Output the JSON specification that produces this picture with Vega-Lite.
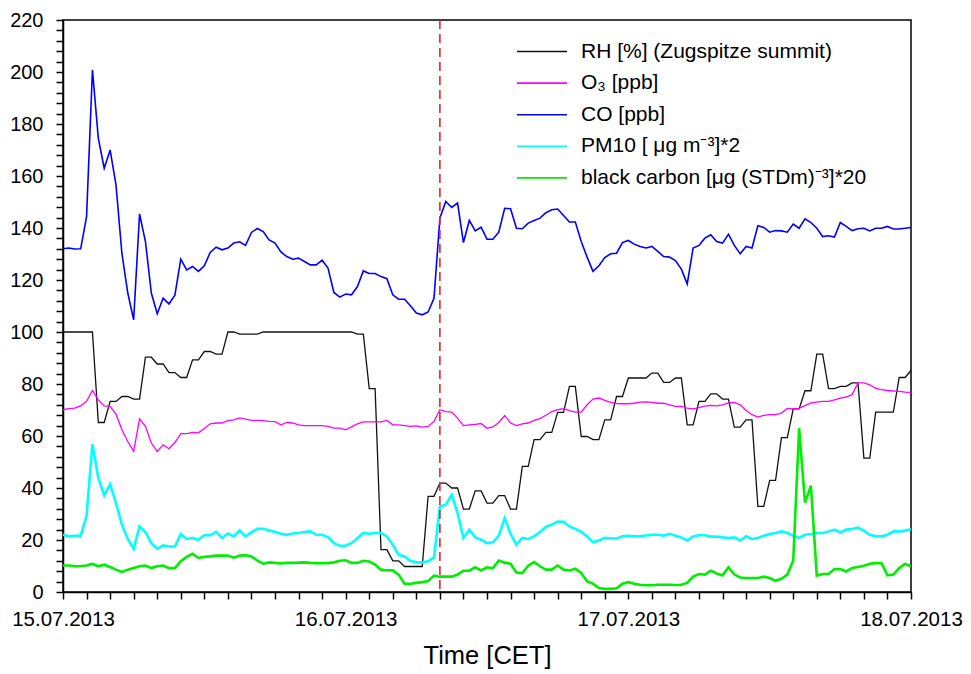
{
"$schema":"https://vega.github.io/schema/vega-lite/v6.json",
"width":848,"height":572,
"autosize":{"type":"none"},
"padding":{"left":63,"top":20,"right":59,"bottom":82},
"background":"white",
"datasets":{"series":[
{"t":"2013-07-15T00:00","s":"RH","v":100},{"t":"2013-07-15T00:30","s":"RH","v":100},{"t":"2013-07-15T01:00","s":"RH","v":100},{"t":"2013-07-15T01:30","s":"RH","v":100},{"t":"2013-07-15T02:00","s":"RH","v":100},{"t":"2013-07-15T02:30","s":"RH","v":100},{"t":"2013-07-15T03:00","s":"RH","v":65.2},{"t":"2013-07-15T03:30","s":"RH","v":65.2},{"t":"2013-07-15T04:00","s":"RH","v":73.3},{"t":"2013-07-15T04:30","s":"RH","v":73.3},{"t":"2013-07-15T05:00","s":"RH","v":75.2},{"t":"2013-07-15T05:30","s":"RH","v":75.2},{"t":"2013-07-15T06:00","s":"RH","v":74.2},{"t":"2013-07-15T06:30","s":"RH","v":74.2},{"t":"2013-07-15T07:00","s":"RH","v":90.3},{"t":"2013-07-15T07:30","s":"RH","v":90.3},{"t":"2013-07-15T08:00","s":"RH","v":87.7},{"t":"2013-07-15T08:30","s":"RH","v":87.7},{"t":"2013-07-15T09:00","s":"RH","v":84.4},{"t":"2013-07-15T09:30","s":"RH","v":84.4},{"t":"2013-07-15T10:00","s":"RH","v":82.5},{"t":"2013-07-15T10:30","s":"RH","v":82.5},{"t":"2013-07-15T11:00","s":"RH","v":89.3},{"t":"2013-07-15T11:30","s":"RH","v":89.3},{"t":"2013-07-15T12:00","s":"RH","v":92.5},{"t":"2013-07-15T12:30","s":"RH","v":92.5},{"t":"2013-07-15T13:00","s":"RH","v":91.5},{"t":"2013-07-15T13:30","s":"RH","v":91.5},{"t":"2013-07-15T14:00","s":"RH","v":100},{"t":"2013-07-15T14:30","s":"RH","v":100},{"t":"2013-07-15T15:00","s":"RH","v":99.2},{"t":"2013-07-15T15:30","s":"RH","v":99.2},{"t":"2013-07-15T16:00","s":"RH","v":99.2},{"t":"2013-07-15T16:30","s":"RH","v":99.2},{"t":"2013-07-15T17:00","s":"RH","v":100},{"t":"2013-07-15T17:30","s":"RH","v":100},{"t":"2013-07-15T18:00","s":"RH","v":100},{"t":"2013-07-15T18:30","s":"RH","v":100},{"t":"2013-07-15T19:00","s":"RH","v":100},{"t":"2013-07-15T19:30","s":"RH","v":100},{"t":"2013-07-15T20:00","s":"RH","v":100},{"t":"2013-07-15T20:30","s":"RH","v":100},{"t":"2013-07-15T21:00","s":"RH","v":100},{"t":"2013-07-15T21:30","s":"RH","v":100},{"t":"2013-07-15T22:00","s":"RH","v":100},{"t":"2013-07-15T22:30","s":"RH","v":100},{"t":"2013-07-15T23:00","s":"RH","v":100},{"t":"2013-07-15T23:30","s":"RH","v":100},
{"t":"2013-07-16T00:00","s":"RH","v":100},{"t":"2013-07-16T00:30","s":"RH","v":100},{"t":"2013-07-16T01:00","s":"RH","v":99.2},{"t":"2013-07-16T01:30","s":"RH","v":99.2},{"t":"2013-07-16T02:00","s":"RH","v":78.2},{"t":"2013-07-16T02:30","s":"RH","v":78.2},{"t":"2013-07-16T03:00","s":"RH","v":16.3},{"t":"2013-07-16T03:30","s":"RH","v":16.3},{"t":"2013-07-16T04:00","s":"RH","v":12},{"t":"2013-07-16T04:30","s":"RH","v":12},{"t":"2013-07-16T05:00","s":"RH","v":9.8},{"t":"2013-07-16T05:30","s":"RH","v":9.8},{"t":"2013-07-16T06:00","s":"RH","v":9.8},{"t":"2013-07-16T06:30","s":"RH","v":9.8},{"t":"2013-07-16T07:00","s":"RH","v":36.8},{"t":"2013-07-16T07:30","s":"RH","v":36.8},{"t":"2013-07-16T08:00","s":"RH","v":41.9},{"t":"2013-07-16T08:30","s":"RH","v":41.9},{"t":"2013-07-16T09:00","s":"RH","v":40},{"t":"2013-07-16T09:30","s":"RH","v":40},{"t":"2013-07-16T10:00","s":"RH","v":31.9},{"t":"2013-07-16T10:30","s":"RH","v":31.9},{"t":"2013-07-16T11:00","s":"RH","v":38.9},{"t":"2013-07-16T11:30","s":"RH","v":38.9},{"t":"2013-07-16T12:00","s":"RH","v":34.2},{"t":"2013-07-16T12:30","s":"RH","v":34.2},{"t":"2013-07-16T13:00","s":"RH","v":37.1},{"t":"2013-07-16T13:30","s":"RH","v":37.1},{"t":"2013-07-16T14:00","s":"RH","v":31.9},{"t":"2013-07-16T14:30","s":"RH","v":31.9},{"t":"2013-07-16T15:00","s":"RH","v":48.3},{"t":"2013-07-16T15:30","s":"RH","v":48.3},{"t":"2013-07-16T16:00","s":"RH","v":58.6},{"t":"2013-07-16T16:30","s":"RH","v":58.6},{"t":"2013-07-16T17:00","s":"RH","v":61.4},{"t":"2013-07-16T17:30","s":"RH","v":61.4},{"t":"2013-07-16T18:00","s":"RH","v":69.1},{"t":"2013-07-16T18:30","s":"RH","v":69.1},{"t":"2013-07-16T19:00","s":"RH","v":79.1},{"t":"2013-07-16T19:30","s":"RH","v":79.1},{"t":"2013-07-16T20:00","s":"RH","v":59.8},{"t":"2013-07-16T20:30","s":"RH","v":59.8},{"t":"2013-07-16T21:00","s":"RH","v":58.6},{"t":"2013-07-16T21:30","s":"RH","v":58.6},{"t":"2013-07-16T22:00","s":"RH","v":66.2},{"t":"2013-07-16T22:30","s":"RH","v":66.2},{"t":"2013-07-16T23:00","s":"RH","v":75.2},{"t":"2013-07-16T23:30","s":"RH","v":75.2},
{"t":"2013-07-17T00:00","s":"RH","v":82.3},{"t":"2013-07-17T00:30","s":"RH","v":82.3},{"t":"2013-07-17T01:00","s":"RH","v":82.3},{"t":"2013-07-17T01:30","s":"RH","v":82.3},{"t":"2013-07-17T02:00","s":"RH","v":84.2},{"t":"2013-07-17T02:30","s":"RH","v":84.2},{"t":"2013-07-17T03:00","s":"RH","v":80.6},{"t":"2013-07-17T03:30","s":"RH","v":80.6},{"t":"2013-07-17T04:00","s":"RH","v":82.3},{"t":"2013-07-17T04:30","s":"RH","v":82.3},{"t":"2013-07-17T05:00","s":"RH","v":64.3},{"t":"2013-07-17T05:30","s":"RH","v":64.3},{"t":"2013-07-17T06:00","s":"RH","v":73.3},{"t":"2013-07-17T06:30","s":"RH","v":73.3},{"t":"2013-07-17T07:00","s":"RH","v":76.2},{"t":"2013-07-17T07:30","s":"RH","v":76.2},{"t":"2013-07-17T08:00","s":"RH","v":74.2},{"t":"2013-07-17T08:30","s":"RH","v":74.2},{"t":"2013-07-17T09:00","s":"RH","v":63.4},{"t":"2013-07-17T09:30","s":"RH","v":63.4},{"t":"2013-07-17T10:00","s":"RH","v":66.2},{"t":"2013-07-17T10:30","s":"RH","v":66.2},{"t":"2013-07-17T11:00","s":"RH","v":32.9},{"t":"2013-07-17T11:30","s":"RH","v":32.9},{"t":"2013-07-17T12:00","s":"RH","v":42.9},{"t":"2013-07-17T12:30","s":"RH","v":42.9},{"t":"2013-07-17T13:00","s":"RH","v":59.4},{"t":"2013-07-17T13:30","s":"RH","v":59.4},{"t":"2013-07-17T14:00","s":"RH","v":70.4},{"t":"2013-07-17T14:30","s":"RH","v":70.4},{"t":"2013-07-17T15:00","s":"RH","v":77.4},{"t":"2013-07-17T15:30","s":"RH","v":77.4},{"t":"2013-07-17T16:00","s":"RH","v":91.5},{"t":"2013-07-17T16:30","s":"RH","v":91.5},{"t":"2013-07-17T17:00","s":"RH","v":78.2},{"t":"2013-07-17T17:30","s":"RH","v":78.2},{"t":"2013-07-17T18:00","s":"RH","v":79.1},{"t":"2013-07-17T18:30","s":"RH","v":79.1},{"t":"2013-07-17T19:00","s":"RH","v":80.4},{"t":"2013-07-17T19:30","s":"RH","v":80.4},{"t":"2013-07-17T20:00","s":"RH","v":51.5},{"t":"2013-07-17T20:30","s":"RH","v":51.5},{"t":"2013-07-17T21:00","s":"RH","v":69.2},{"t":"2013-07-17T21:30","s":"RH","v":69.2},{"t":"2013-07-17T22:00","s":"RH","v":69.2},{"t":"2013-07-17T22:30","s":"RH","v":69.2},{"t":"2013-07-17T23:00","s":"RH","v":82.5},{"t":"2013-07-17T23:30","s":"RH","v":82.5},{"t":"2013-07-18T00:00","s":"RH","v":85.2},

{"t":"2013-07-15T00:00","s":"O3","v":70.1},{"t":"2013-07-15T00:30","s":"O3","v":70.5},{"t":"2013-07-15T01:00","s":"O3","v":70.7},{"t":"2013-07-15T01:30","s":"O3","v":71.6},{"t":"2013-07-15T02:00","s":"O3","v":73.3},{"t":"2013-07-15T02:30","s":"O3","v":77.5},{"t":"2013-07-15T03:00","s":"O3","v":73.9},{"t":"2013-07-15T03:30","s":"O3","v":71.6},{"t":"2013-07-15T04:00","s":"O3","v":71.4},{"t":"2013-07-15T04:30","s":"O3","v":68.4},{"t":"2013-07-15T05:00","s":"O3","v":62.4},{"t":"2013-07-15T05:30","s":"O3","v":57.9},{"t":"2013-07-15T06:00","s":"O3","v":54.1},{"t":"2013-07-15T06:30","s":"O3","v":66.6},{"t":"2013-07-15T07:00","s":"O3","v":63.7},{"t":"2013-07-15T07:30","s":"O3","v":57.3},{"t":"2013-07-15T08:00","s":"O3","v":54.1},{"t":"2013-07-15T08:30","s":"O3","v":56.6},{"t":"2013-07-15T09:00","s":"O3","v":55.1},{"t":"2013-07-15T09:30","s":"O3","v":57.5},{"t":"2013-07-15T10:00","s":"O3","v":60.9},{"t":"2013-07-15T10:30","s":"O3","v":60.9},{"t":"2013-07-15T11:00","s":"O3","v":61.4},{"t":"2013-07-15T11:30","s":"O3","v":61.2},{"t":"2013-07-15T12:00","s":"O3","v":62.9},{"t":"2013-07-15T12:30","s":"O3","v":64.7},{"t":"2013-07-15T13:00","s":"O3","v":65},{"t":"2013-07-15T13:30","s":"O3","v":65},{"t":"2013-07-15T14:00","s":"O3","v":65.9},{"t":"2013-07-15T14:30","s":"O3","v":66.2},{"t":"2013-07-15T15:00","s":"O3","v":67},{"t":"2013-07-15T15:30","s":"O3","v":66.5},{"t":"2013-07-15T16:00","s":"O3","v":66},{"t":"2013-07-15T16:30","s":"O3","v":66},{"t":"2013-07-15T17:00","s":"O3","v":65.9},{"t":"2013-07-15T17:30","s":"O3","v":65.6},{"t":"2013-07-15T18:00","s":"O3","v":65.5},{"t":"2013-07-15T18:30","s":"O3","v":64.3},{"t":"2013-07-15T19:00","s":"O3","v":65.2},{"t":"2013-07-15T19:30","s":"O3","v":65},{"t":"2013-07-15T20:00","s":"O3","v":64.3},{"t":"2013-07-15T20:30","s":"O3","v":64},{"t":"2013-07-15T21:00","s":"O3","v":64},{"t":"2013-07-15T21:30","s":"O3","v":64},{"t":"2013-07-15T22:00","s":"O3","v":64},{"t":"2013-07-15T22:30","s":"O3","v":63.7},{"t":"2013-07-15T23:00","s":"O3","v":63},{"t":"2013-07-15T23:30","s":"O3","v":63},
{"t":"2013-07-16T00:00","s":"O3","v":62.4},{"t":"2013-07-16T00:30","s":"O3","v":63.5},{"t":"2013-07-16T01:00","s":"O3","v":64.7},{"t":"2013-07-16T01:30","s":"O3","v":65.4},{"t":"2013-07-16T02:00","s":"O3","v":65.4},{"t":"2013-07-16T02:30","s":"O3","v":65.4},{"t":"2013-07-16T03:00","s":"O3","v":65.4},{"t":"2013-07-16T03:30","s":"O3","v":66},{"t":"2013-07-16T04:00","s":"O3","v":64.3},{"t":"2013-07-16T04:30","s":"O3","v":64.3},{"t":"2013-07-16T05:00","s":"O3","v":64},{"t":"2013-07-16T05:30","s":"O3","v":63.7},{"t":"2013-07-16T06:00","s":"O3","v":63.9},{"t":"2013-07-16T06:30","s":"O3","v":63.4},{"t":"2013-07-16T07:00","s":"O3","v":63.7},{"t":"2013-07-16T07:30","s":"O3","v":65.6},{"t":"2013-07-16T08:00","s":"O3","v":70.1},{"t":"2013-07-16T08:30","s":"O3","v":69.4},{"t":"2013-07-16T09:00","s":"O3","v":69.2},{"t":"2013-07-16T09:30","s":"O3","v":66.9},{"t":"2013-07-16T10:00","s":"O3","v":64},{"t":"2013-07-16T10:30","s":"O3","v":64.3},{"t":"2013-07-16T11:00","s":"O3","v":64.5},{"t":"2013-07-16T11:30","s":"O3","v":64.8},{"t":"2013-07-16T12:00","s":"O3","v":63},{"t":"2013-07-16T12:30","s":"O3","v":63.5},{"t":"2013-07-16T13:00","s":"O3","v":65.2},{"t":"2013-07-16T13:30","s":"O3","v":67.9},{"t":"2013-07-16T14:00","s":"O3","v":65},{"t":"2013-07-16T14:30","s":"O3","v":64},{"t":"2013-07-16T15:00","s":"O3","v":64.7},{"t":"2013-07-16T15:30","s":"O3","v":65},{"t":"2013-07-16T16:00","s":"O3","v":66},{"t":"2013-07-16T16:30","s":"O3","v":66.7},{"t":"2013-07-16T17:00","s":"O3","v":68},{"t":"2013-07-16T17:30","s":"O3","v":69.4},{"t":"2013-07-16T18:00","s":"O3","v":70.1},{"t":"2013-07-16T18:30","s":"O3","v":70.5},{"t":"2013-07-16T19:00","s":"O3","v":69.8},{"t":"2013-07-16T19:30","s":"O3","v":69.2},{"t":"2013-07-16T20:00","s":"O3","v":69.2},{"t":"2013-07-16T20:30","s":"O3","v":72},{"t":"2013-07-16T21:00","s":"O3","v":74.2},{"t":"2013-07-16T21:30","s":"O3","v":74.6},{"t":"2013-07-16T22:00","s":"O3","v":73.7},{"t":"2013-07-16T22:30","s":"O3","v":72.9},{"t":"2013-07-16T23:00","s":"O3","v":72.5},{"t":"2013-07-16T23:30","s":"O3","v":72.4},
{"t":"2013-07-17T00:00","s":"O3","v":72.4},{"t":"2013-07-17T00:30","s":"O3","v":72.6},{"t":"2013-07-17T01:00","s":"O3","v":73},{"t":"2013-07-17T01:30","s":"O3","v":73.1},{"t":"2013-07-17T02:00","s":"O3","v":72.9},{"t":"2013-07-17T02:30","s":"O3","v":72.6},{"t":"2013-07-17T03:00","s":"O3","v":72.6},{"t":"2013-07-17T03:30","s":"O3","v":72},{"t":"2013-07-17T04:00","s":"O3","v":71.4},{"t":"2013-07-17T04:30","s":"O3","v":71.4},{"t":"2013-07-17T05:00","s":"O3","v":70.7},{"t":"2013-07-17T05:30","s":"O3","v":70.4},{"t":"2013-07-17T06:00","s":"O3","v":70.9},{"t":"2013-07-17T06:30","s":"O3","v":71.5},{"t":"2013-07-17T07:00","s":"O3","v":71.8},{"t":"2013-07-17T07:30","s":"O3","v":71.6},{"t":"2013-07-17T08:00","s":"O3","v":72},{"t":"2013-07-17T08:30","s":"O3","v":72.7},{"t":"2013-07-17T09:00","s":"O3","v":72.9},{"t":"2013-07-17T09:30","s":"O3","v":72},{"t":"2013-07-17T10:00","s":"O3","v":69.8},{"t":"2013-07-17T10:30","s":"O3","v":68.2},{"t":"2013-07-17T11:00","s":"O3","v":67.3},{"t":"2013-07-17T11:30","s":"O3","v":67.9},{"t":"2013-07-17T12:00","s":"O3","v":68.2},{"t":"2013-07-17T12:30","s":"O3","v":68.2},{"t":"2013-07-17T13:00","s":"O3","v":68.8},{"t":"2013-07-17T13:30","s":"O3","v":70.6},{"t":"2013-07-17T14:00","s":"O3","v":70.4},{"t":"2013-07-17T14:30","s":"O3","v":70.6},{"t":"2013-07-17T15:00","s":"O3","v":71.7},{"t":"2013-07-17T15:30","s":"O3","v":72.7},{"t":"2013-07-17T16:00","s":"O3","v":73},{"t":"2013-07-17T16:30","s":"O3","v":73.3},{"t":"2013-07-17T17:00","s":"O3","v":73.3},{"t":"2013-07-17T17:30","s":"O3","v":73.9},{"t":"2013-07-17T18:00","s":"O3","v":74.6},{"t":"2013-07-17T18:30","s":"O3","v":75},{"t":"2013-07-17T19:00","s":"O3","v":75.9},{"t":"2013-07-17T19:30","s":"O3","v":80.4},{"t":"2013-07-17T20:00","s":"O3","v":80.4},{"t":"2013-07-17T20:30","s":"O3","v":79.7},{"t":"2013-07-17T21:00","s":"O3","v":78.3},{"t":"2013-07-17T21:30","s":"O3","v":77.8},{"t":"2013-07-17T22:00","s":"O3","v":77.5},{"t":"2013-07-17T22:30","s":"O3","v":77.3},{"t":"2013-07-17T23:00","s":"O3","v":77.2},{"t":"2013-07-17T23:30","s":"O3","v":76.9},{"t":"2013-07-18T00:00","s":"O3","v":76.8},

{"t":"2013-07-15T00:00","s":"CO","v":132},{"t":"2013-07-15T00:30","s":"CO","v":132.3},{"t":"2013-07-15T01:00","s":"CO","v":131.9},{"t":"2013-07-15T01:30","s":"CO","v":132},{"t":"2013-07-15T02:00","s":"CO","v":144.4},{"t":"2013-07-15T02:30","s":"CO","v":200.8},{"t":"2013-07-15T03:00","s":"CO","v":174.5},{"t":"2013-07-15T03:30","s":"CO","v":163},{"t":"2013-07-15T04:00","s":"CO","v":170},{"t":"2013-07-15T04:30","s":"CO","v":156.6},{"t":"2013-07-15T05:00","s":"CO","v":130.3},{"t":"2013-07-15T05:30","s":"CO","v":115},{"t":"2013-07-15T06:00","s":"CO","v":104.7},{"t":"2013-07-15T06:30","s":"CO","v":145.4},{"t":"2013-07-15T07:00","s":"CO","v":134.8},{"t":"2013-07-15T07:30","s":"CO","v":115},{"t":"2013-07-15T08:00","s":"CO","v":107},{"t":"2013-07-15T08:30","s":"CO","v":113},{"t":"2013-07-15T09:00","s":"CO","v":110.8},{"t":"2013-07-15T09:30","s":"CO","v":114.2},{"t":"2013-07-15T10:00","s":"CO","v":128},{"t":"2013-07-15T10:30","s":"CO","v":123.9},{"t":"2013-07-15T11:00","s":"CO","v":125.2},{"t":"2013-07-15T11:30","s":"CO","v":123.3},{"t":"2013-07-15T12:00","s":"CO","v":125.5},{"t":"2013-07-15T12:30","s":"CO","v":130.6},{"t":"2013-07-15T13:00","s":"CO","v":132.6},{"t":"2013-07-15T13:30","s":"CO","v":131.6},{"t":"2013-07-15T14:00","s":"CO","v":132.3},{"t":"2013-07-15T14:30","s":"CO","v":134.2},{"t":"2013-07-15T15:00","s":"CO","v":134.7},{"t":"2013-07-15T15:30","s":"CO","v":133.3},{"t":"2013-07-15T16:00","s":"CO","v":138.3},{"t":"2013-07-15T16:30","s":"CO","v":139.8},{"t":"2013-07-15T17:00","s":"CO","v":138.6},{"t":"2013-07-15T17:30","s":"CO","v":135.4},{"t":"2013-07-15T18:00","s":"CO","v":134.2},{"t":"2013-07-15T18:30","s":"CO","v":130.8},{"t":"2013-07-15T19:00","s":"CO","v":129},{"t":"2013-07-15T19:30","s":"CO","v":128},{"t":"2013-07-15T20:00","s":"CO","v":128.4},{"t":"2013-07-15T20:30","s":"CO","v":127.1},{"t":"2013-07-15T21:00","s":"CO","v":125.8},{"t":"2013-07-15T21:30","s":"CO","v":125.8},{"t":"2013-07-15T22:00","s":"CO","v":127.6},{"t":"2013-07-15T22:30","s":"CO","v":124.6},{"t":"2013-07-15T23:00","s":"CO","v":115.2},{"t":"2013-07-15T23:30","s":"CO","v":113.4},
{"t":"2013-07-16T00:00","s":"CO","v":114.6},{"t":"2013-07-16T00:30","s":"CO","v":114.3},{"t":"2013-07-16T01:00","s":"CO","v":117.5},{"t":"2013-07-16T01:30","s":"CO","v":123.5},{"t":"2013-07-16T02:00","s":"CO","v":122.5},{"t":"2013-07-16T02:30","s":"CO","v":122.5},{"t":"2013-07-16T03:00","s":"CO","v":121.3},{"t":"2013-07-16T03:30","s":"CO","v":120.5},{"t":"2013-07-16T04:00","s":"CO","v":114.3},{"t":"2013-07-16T04:30","s":"CO","v":112.6},{"t":"2013-07-16T05:00","s":"CO","v":112.6},{"t":"2013-07-16T05:30","s":"CO","v":110.1},{"t":"2013-07-16T06:00","s":"CO","v":107.3},{"t":"2013-07-16T06:30","s":"CO","v":106.6},{"t":"2013-07-16T07:00","s":"CO","v":107.7},{"t":"2013-07-16T07:30","s":"CO","v":113},{"t":"2013-07-16T08:00","s":"CO","v":143.8},{"t":"2013-07-16T08:30","s":"CO","v":150.2},{"t":"2013-07-16T09:00","s":"CO","v":147.9},{"t":"2013-07-16T09:30","s":"CO","v":149.6},{"t":"2013-07-16T10:00","s":"CO","v":134.4},{"t":"2013-07-16T10:30","s":"CO","v":142.9},{"t":"2013-07-16T11:00","s":"CO","v":138.9},{"t":"2013-07-16T11:30","s":"CO","v":140.3},{"t":"2013-07-16T12:00","s":"CO","v":135.7},{"t":"2013-07-16T12:30","s":"CO","v":135.7},{"t":"2013-07-16T13:00","s":"CO","v":138.4},{"t":"2013-07-16T13:30","s":"CO","v":147.6},{"t":"2013-07-16T14:00","s":"CO","v":147.4},{"t":"2013-07-16T14:30","s":"CO","v":139.9},{"t":"2013-07-16T15:00","s":"CO","v":139.7},{"t":"2013-07-16T15:30","s":"CO","v":141.9},{"t":"2013-07-16T16:00","s":"CO","v":142.9},{"t":"2013-07-16T16:30","s":"CO","v":143.8},{"t":"2013-07-16T17:00","s":"CO","v":145.9},{"t":"2013-07-16T17:30","s":"CO","v":147},{"t":"2013-07-16T18:00","s":"CO","v":147.3},{"t":"2013-07-16T18:30","s":"CO","v":144.8},{"t":"2013-07-16T19:00","s":"CO","v":142.3},{"t":"2013-07-16T19:30","s":"CO","v":142.3},{"t":"2013-07-16T20:00","s":"CO","v":134.8},{"t":"2013-07-16T20:30","s":"CO","v":128.8},{"t":"2013-07-16T21:00","s":"CO","v":123.3},{"t":"2013-07-16T21:30","s":"CO","v":125.5},{"t":"2013-07-16T22:00","s":"CO","v":128.6},{"t":"2013-07-16T22:30","s":"CO","v":130.1},{"t":"2013-07-16T23:00","s":"CO","v":130.3},{"t":"2013-07-16T23:30","s":"CO","v":134.4},
{"t":"2013-07-17T00:00","s":"CO","v":135.2},{"t":"2013-07-17T00:30","s":"CO","v":133.8},{"t":"2013-07-17T01:00","s":"CO","v":132.9},{"t":"2013-07-17T01:30","s":"CO","v":132.3},{"t":"2013-07-17T02:00","s":"CO","v":132.9},{"t":"2013-07-17T02:30","s":"CO","v":131},{"t":"2013-07-17T03:00","s":"CO","v":129},{"t":"2013-07-17T03:30","s":"CO","v":128.8},{"t":"2013-07-17T04:00","s":"CO","v":127.5},{"t":"2013-07-17T04:30","s":"CO","v":124.2},{"t":"2013-07-17T05:00","s":"CO","v":118.5},{"t":"2013-07-17T05:30","s":"CO","v":132.3},{"t":"2013-07-17T06:00","s":"CO","v":133.3},{"t":"2013-07-17T06:30","s":"CO","v":136.1},{"t":"2013-07-17T07:00","s":"CO","v":137.4},{"t":"2013-07-17T07:30","s":"CO","v":134.8},{"t":"2013-07-17T08:00","s":"CO","v":134.2},{"t":"2013-07-17T08:30","s":"CO","v":137.6},{"t":"2013-07-17T09:00","s":"CO","v":133.3},{"t":"2013-07-17T09:30","s":"CO","v":130.1},{"t":"2013-07-17T10:00","s":"CO","v":132.9},{"t":"2013-07-17T10:30","s":"CO","v":132.3},{"t":"2013-07-17T11:00","s":"CO","v":140.9},{"t":"2013-07-17T11:30","s":"CO","v":140.2},{"t":"2013-07-17T12:00","s":"CO","v":138.4},{"t":"2013-07-17T12:30","s":"CO","v":139},{"t":"2013-07-17T13:00","s":"CO","v":138.9},{"t":"2013-07-17T13:30","s":"CO","v":138.4},{"t":"2013-07-17T14:00","s":"CO","v":141.5},{"t":"2013-07-17T14:30","s":"CO","v":139.9},{"t":"2013-07-17T15:00","s":"CO","v":143.5},{"t":"2013-07-17T15:30","s":"CO","v":142.1},{"t":"2013-07-17T16:00","s":"CO","v":139.9},{"t":"2013-07-17T16:30","s":"CO","v":136.7},{"t":"2013-07-17T17:00","s":"CO","v":137},{"t":"2013-07-17T17:30","s":"CO","v":136.5},{"t":"2013-07-17T18:00","s":"CO","v":142.1},{"t":"2013-07-17T18:30","s":"CO","v":140.6},{"t":"2013-07-17T19:00","s":"CO","v":139},{"t":"2013-07-17T19:30","s":"CO","v":139.7},{"t":"2013-07-17T20:00","s":"CO","v":139.9},{"t":"2013-07-17T20:30","s":"CO","v":138.9},{"t":"2013-07-17T21:00","s":"CO","v":139.9},{"t":"2013-07-17T21:30","s":"CO","v":139.9},{"t":"2013-07-17T22:00","s":"CO","v":140.6},{"t":"2013-07-17T22:30","s":"CO","v":139.6},{"t":"2013-07-17T23:00","s":"CO","v":139.6},{"t":"2013-07-17T23:30","s":"CO","v":139.9},{"t":"2013-07-18T00:00","s":"CO","v":140.2},

{"t":"2013-07-15T00:00","s":"PM10","v":22},{"t":"2013-07-15T00:30","s":"PM10","v":21.4},{"t":"2013-07-15T01:00","s":"PM10","v":21.6},{"t":"2013-07-15T01:30","s":"PM10","v":21.6},{"t":"2013-07-15T02:00","s":"PM10","v":29.3},{"t":"2013-07-15T02:30","s":"PM10","v":56.9},{"t":"2013-07-15T03:00","s":"PM10","v":43.8},{"t":"2013-07-15T03:30","s":"PM10","v":37.1},{"t":"2013-07-15T04:00","s":"PM10","v":41.5},{"t":"2013-07-15T04:30","s":"PM10","v":34.2},{"t":"2013-07-15T05:00","s":"PM10","v":25.9},{"t":"2013-07-15T05:30","s":"PM10","v":20.4},{"t":"2013-07-15T06:00","s":"PM10","v":16.6},{"t":"2013-07-15T06:30","s":"PM10","v":25.2},{"t":"2013-07-15T07:00","s":"PM10","v":23.1},{"t":"2013-07-15T07:30","s":"PM10","v":18.8},{"t":"2013-07-15T08:00","s":"PM10","v":16.6},{"t":"2013-07-15T08:30","s":"PM10","v":17.9},{"t":"2013-07-15T09:00","s":"PM10","v":17.5},{"t":"2013-07-15T09:30","s":"PM10","v":17.5},{"t":"2013-07-15T10:00","s":"PM10","v":22.3},{"t":"2013-07-15T10:30","s":"PM10","v":20.4},{"t":"2013-07-15T11:00","s":"PM10","v":20.8},{"t":"2013-07-15T11:30","s":"PM10","v":20.1},{"t":"2013-07-15T12:00","s":"PM10","v":21.8},{"t":"2013-07-15T12:30","s":"PM10","v":21.8},{"t":"2013-07-15T13:00","s":"PM10","v":23.1},{"t":"2013-07-15T13:30","s":"PM10","v":20.8},{"t":"2013-07-15T14:00","s":"PM10","v":22.5},{"t":"2013-07-15T14:30","s":"PM10","v":21.4},{"t":"2013-07-15T15:00","s":"PM10","v":23.7},{"t":"2013-07-15T15:30","s":"PM10","v":21.4},{"t":"2013-07-15T16:00","s":"PM10","v":22.9},{"t":"2013-07-15T16:30","s":"PM10","v":24.3},{"t":"2013-07-15T17:00","s":"PM10","v":24.3},{"t":"2013-07-15T17:30","s":"PM10","v":23.7},{"t":"2013-07-15T18:00","s":"PM10","v":23.1},{"t":"2013-07-15T18:30","s":"PM10","v":22.4},{"t":"2013-07-15T19:00","s":"PM10","v":22},{"t":"2013-07-15T19:30","s":"PM10","v":22.5},{"t":"2013-07-15T20:00","s":"PM10","v":22.7},{"t":"2013-07-15T20:30","s":"PM10","v":23.1},{"t":"2013-07-15T21:00","s":"PM10","v":23.3},{"t":"2013-07-15T21:30","s":"PM10","v":22},{"t":"2013-07-15T22:00","s":"PM10","v":22},{"t":"2013-07-15T22:30","s":"PM10","v":21},{"t":"2013-07-15T23:00","s":"PM10","v":18.8},{"t":"2013-07-15T23:30","s":"PM10","v":17.8},
{"t":"2013-07-16T00:00","s":"PM10","v":17.8},{"t":"2013-07-16T00:30","s":"PM10","v":18.8},{"t":"2013-07-16T01:00","s":"PM10","v":20.8},{"t":"2013-07-16T01:30","s":"PM10","v":22.7},{"t":"2013-07-16T02:00","s":"PM10","v":22.4},{"t":"2013-07-16T02:30","s":"PM10","v":22.7},{"t":"2013-07-16T03:00","s":"PM10","v":22.7},{"t":"2013-07-16T03:30","s":"PM10","v":21.4},{"t":"2013-07-16T04:00","s":"PM10","v":18.2},{"t":"2013-07-16T04:30","s":"PM10","v":14.3},{"t":"2013-07-16T05:00","s":"PM10","v":13.7},{"t":"2013-07-16T05:30","s":"PM10","v":12},{"t":"2013-07-16T06:00","s":"PM10","v":11.4},{"t":"2013-07-16T06:30","s":"PM10","v":11.4},{"t":"2013-07-16T07:00","s":"PM10","v":11.8},{"t":"2013-07-16T07:30","s":"PM10","v":13.3},{"t":"2013-07-16T08:00","s":"PM10","v":32.9},{"t":"2013-07-16T08:30","s":"PM10","v":33.6},{"t":"2013-07-16T09:00","s":"PM10","v":37.4},{"t":"2013-07-16T09:30","s":"PM10","v":30.4},{"t":"2013-07-16T10:00","s":"PM10","v":20.8},{"t":"2013-07-16T10:30","s":"PM10","v":24},{"t":"2013-07-16T11:00","s":"PM10","v":21},{"t":"2013-07-16T11:30","s":"PM10","v":20.1},{"t":"2013-07-16T12:00","s":"PM10","v":18.8},{"t":"2013-07-16T12:30","s":"PM10","v":19.1},{"t":"2013-07-16T13:00","s":"PM10","v":21.6},{"t":"2013-07-16T13:30","s":"PM10","v":28.4},{"t":"2013-07-16T14:00","s":"PM10","v":22.4},{"t":"2013-07-16T14:30","s":"PM10","v":18.2},{"t":"2013-07-16T15:00","s":"PM10","v":20.8},{"t":"2013-07-16T15:30","s":"PM10","v":20.4},{"t":"2013-07-16T16:00","s":"PM10","v":21.4},{"t":"2013-07-16T16:30","s":"PM10","v":23.1},{"t":"2013-07-16T17:00","s":"PM10","v":25},{"t":"2013-07-16T17:30","s":"PM10","v":25.9},{"t":"2013-07-16T18:00","s":"PM10","v":27.1},{"t":"2013-07-16T18:30","s":"PM10","v":27},{"t":"2013-07-16T19:00","s":"PM10","v":25.2},{"t":"2013-07-16T19:30","s":"PM10","v":24.3},{"t":"2013-07-16T20:00","s":"PM10","v":23.1},{"t":"2013-07-16T20:30","s":"PM10","v":21.4},{"t":"2013-07-16T21:00","s":"PM10","v":19.1},{"t":"2013-07-16T21:30","s":"PM10","v":19.8},{"t":"2013-07-16T22:00","s":"PM10","v":20.8},{"t":"2013-07-16T22:30","s":"PM10","v":20.6},{"t":"2013-07-16T23:00","s":"PM10","v":20.6},{"t":"2013-07-16T23:30","s":"PM10","v":21.4},
{"t":"2013-07-17T00:00","s":"PM10","v":21.6},{"t":"2013-07-17T00:30","s":"PM10","v":21.4},{"t":"2013-07-17T01:00","s":"PM10","v":21.4},{"t":"2013-07-17T01:30","s":"PM10","v":21.7},{"t":"2013-07-17T02:00","s":"PM10","v":22},{"t":"2013-07-17T02:30","s":"PM10","v":22},{"t":"2013-07-17T03:00","s":"PM10","v":21.7},{"t":"2013-07-17T03:30","s":"PM10","v":22.4},{"t":"2013-07-17T04:00","s":"PM10","v":21.6},{"t":"2013-07-17T04:30","s":"PM10","v":21},{"t":"2013-07-17T05:00","s":"PM10","v":19.8},{"t":"2013-07-17T05:30","s":"PM10","v":21.4},{"t":"2013-07-17T06:00","s":"PM10","v":21.8},{"t":"2013-07-17T06:30","s":"PM10","v":21.8},{"t":"2013-07-17T07:00","s":"PM10","v":21.3},{"t":"2013-07-17T07:30","s":"PM10","v":21.3},{"t":"2013-07-17T08:00","s":"PM10","v":21},{"t":"2013-07-17T08:30","s":"PM10","v":20.8},{"t":"2013-07-17T09:00","s":"PM10","v":21},{"t":"2013-07-17T09:30","s":"PM10","v":19.8},{"t":"2013-07-17T10:00","s":"PM10","v":21.4},{"t":"2013-07-17T10:30","s":"PM10","v":20.4},{"t":"2013-07-17T11:00","s":"PM10","v":20.8},{"t":"2013-07-17T11:30","s":"PM10","v":21.6},{"t":"2013-07-17T12:00","s":"PM10","v":22.3},{"t":"2013-07-17T12:30","s":"PM10","v":22.7},{"t":"2013-07-17T13:00","s":"PM10","v":23.3},{"t":"2013-07-17T13:30","s":"PM10","v":22.7},{"t":"2013-07-17T14:00","s":"PM10","v":21.6},{"t":"2013-07-17T14:30","s":"PM10","v":20.8},{"t":"2013-07-17T15:00","s":"PM10","v":22},{"t":"2013-07-17T15:30","s":"PM10","v":22.3},{"t":"2013-07-17T16:00","s":"PM10","v":22.7},{"t":"2013-07-17T16:30","s":"PM10","v":22.7},{"t":"2013-07-17T17:00","s":"PM10","v":23.3},{"t":"2013-07-17T17:30","s":"PM10","v":24},{"t":"2013-07-17T18:00","s":"PM10","v":22.9},{"t":"2013-07-17T18:30","s":"PM10","v":24},{"t":"2013-07-17T19:00","s":"PM10","v":24.2},{"t":"2013-07-17T19:30","s":"PM10","v":24.8},{"t":"2013-07-17T20:00","s":"PM10","v":23.6},{"t":"2013-07-17T20:30","s":"PM10","v":22},{"t":"2013-07-17T21:00","s":"PM10","v":21.4},{"t":"2013-07-17T21:30","s":"PM10","v":21.4},{"t":"2013-07-17T22:00","s":"PM10","v":22},{"t":"2013-07-17T22:30","s":"PM10","v":23.3},{"t":"2013-07-17T23:00","s":"PM10","v":23.3},{"t":"2013-07-17T23:30","s":"PM10","v":23.6},{"t":"2013-07-18T00:00","s":"PM10","v":24.2},

{"t":"2013-07-15T00:00","s":"BC","v":10.2},{"t":"2013-07-15T00:30","s":"BC","v":10.2},{"t":"2013-07-15T01:00","s":"BC","v":9.9},{"t":"2013-07-15T01:30","s":"BC","v":10},{"t":"2013-07-15T02:00","s":"BC","v":10.2},{"t":"2013-07-15T02:30","s":"BC","v":10.8},{"t":"2013-07-15T03:00","s":"BC","v":9.9},{"t":"2013-07-15T03:30","s":"BC","v":10.5},{"t":"2013-07-15T04:00","s":"BC","v":9.6},{"t":"2013-07-15T04:30","s":"BC","v":8.6},{"t":"2013-07-15T05:00","s":"BC","v":7.7},{"t":"2013-07-15T05:30","s":"BC","v":8.6},{"t":"2013-07-15T06:00","s":"BC","v":9.2},{"t":"2013-07-15T06:30","s":"BC","v":9.9},{"t":"2013-07-15T07:00","s":"BC","v":10.2},{"t":"2013-07-15T07:30","s":"BC","v":9.2},{"t":"2013-07-15T08:00","s":"BC","v":9.9},{"t":"2013-07-15T08:30","s":"BC","v":10.2},{"t":"2013-07-15T09:00","s":"BC","v":9.2},{"t":"2013-07-15T09:30","s":"BC","v":9.2},{"t":"2013-07-15T10:00","s":"BC","v":11.8},{"t":"2013-07-15T10:30","s":"BC","v":13.5},{"t":"2013-07-15T11:00","s":"BC","v":14.7},{"t":"2013-07-15T11:30","s":"BC","v":13.1},{"t":"2013-07-15T12:00","s":"BC","v":13.5},{"t":"2013-07-15T12:30","s":"BC","v":13.7},{"t":"2013-07-15T13:00","s":"BC","v":14},{"t":"2013-07-15T13:30","s":"BC","v":14},{"t":"2013-07-15T14:00","s":"BC","v":14},{"t":"2013-07-15T14:30","s":"BC","v":13.2},{"t":"2013-07-15T15:00","s":"BC","v":14},{"t":"2013-07-15T15:30","s":"BC","v":14.1},{"t":"2013-07-15T16:00","s":"BC","v":13.7},{"t":"2013-07-15T16:30","s":"BC","v":12.1},{"t":"2013-07-15T17:00","s":"BC","v":10.9},{"t":"2013-07-15T17:30","s":"BC","v":11.4},{"t":"2013-07-15T18:00","s":"BC","v":11.2},{"t":"2013-07-15T18:30","s":"BC","v":11},{"t":"2013-07-15T19:00","s":"BC","v":11.2},{"t":"2013-07-15T19:30","s":"BC","v":11.2},{"t":"2013-07-15T20:00","s":"BC","v":11.3},{"t":"2013-07-15T20:30","s":"BC","v":11.4},{"t":"2013-07-15T21:00","s":"BC","v":11.2},{"t":"2013-07-15T21:30","s":"BC","v":11.1},{"t":"2013-07-15T22:00","s":"BC","v":11.1},{"t":"2013-07-15T22:30","s":"BC","v":11.1},{"t":"2013-07-15T23:00","s":"BC","v":11.4},{"t":"2013-07-15T23:30","s":"BC","v":12},
{"t":"2013-07-16T00:00","s":"BC","v":12.2},{"t":"2013-07-16T00:30","s":"BC","v":11.2},{"t":"2013-07-16T01:00","s":"BC","v":11.2},{"t":"2013-07-16T01:30","s":"BC","v":12},{"t":"2013-07-16T02:00","s":"BC","v":11.7},{"t":"2013-07-16T02:30","s":"BC","v":10.5},{"t":"2013-07-16T03:00","s":"BC","v":8.6},{"t":"2013-07-16T03:30","s":"BC","v":8.3},{"t":"2013-07-16T04:00","s":"BC","v":8.3},{"t":"2013-07-16T04:30","s":"BC","v":6.7},{"t":"2013-07-16T05:00","s":"BC","v":3.2},{"t":"2013-07-16T05:30","s":"BC","v":3.2},{"t":"2013-07-16T06:00","s":"BC","v":3.5},{"t":"2013-07-16T06:30","s":"BC","v":3.8},{"t":"2013-07-16T07:00","s":"BC","v":4.2},{"t":"2013-07-16T07:30","s":"BC","v":6.3},{"t":"2013-07-16T08:00","s":"BC","v":5.9},{"t":"2013-07-16T08:30","s":"BC","v":5.9},{"t":"2013-07-16T09:00","s":"BC","v":5.9},{"t":"2013-07-16T09:30","s":"BC","v":6.7},{"t":"2013-07-16T10:00","s":"BC","v":8.2},{"t":"2013-07-16T10:30","s":"BC","v":8.2},{"t":"2013-07-16T11:00","s":"BC","v":9.5},{"t":"2013-07-16T11:30","s":"BC","v":8.3},{"t":"2013-07-16T12:00","s":"BC","v":9.5},{"t":"2013-07-16T12:30","s":"BC","v":9.1},{"t":"2013-07-16T13:00","s":"BC","v":12.1},{"t":"2013-07-16T13:30","s":"BC","v":11.3},{"t":"2013-07-16T14:00","s":"BC","v":10.9},{"t":"2013-07-16T14:30","s":"BC","v":7.5},{"t":"2013-07-16T15:00","s":"BC","v":7.3},{"t":"2013-07-16T15:30","s":"BC","v":10.1},{"t":"2013-07-16T16:00","s":"BC","v":11.5},{"t":"2013-07-16T16:30","s":"BC","v":9.9},{"t":"2013-07-16T17:00","s":"BC","v":8.6},{"t":"2013-07-16T17:30","s":"BC","v":8.6},{"t":"2013-07-16T18:00","s":"BC","v":10.2},{"t":"2013-07-16T18:30","s":"BC","v":8.6},{"t":"2013-07-16T19:00","s":"BC","v":8.3},{"t":"2013-07-16T19:30","s":"BC","v":9},{"t":"2013-07-16T20:00","s":"BC","v":7.3},{"t":"2013-07-16T20:30","s":"BC","v":4.1},{"t":"2013-07-16T21:00","s":"BC","v":3.2},{"t":"2013-07-16T21:30","s":"BC","v":1.5},{"t":"2013-07-16T22:00","s":"BC","v":1.2},{"t":"2013-07-16T22:30","s":"BC","v":1.2},{"t":"2013-07-16T23:00","s":"BC","v":1.4},{"t":"2013-07-16T23:30","s":"BC","v":3.2},
{"t":"2013-07-17T00:00","s":"BC","v":3.8},{"t":"2013-07-17T00:30","s":"BC","v":3.2},{"t":"2013-07-17T01:00","s":"BC","v":2.8},{"t":"2013-07-17T01:30","s":"BC","v":2.6},{"t":"2013-07-17T02:00","s":"BC","v":2.6},{"t":"2013-07-17T02:30","s":"BC","v":2.8},{"t":"2013-07-17T03:00","s":"BC","v":2.8},{"t":"2013-07-17T03:30","s":"BC","v":2.8},{"t":"2013-07-17T04:00","s":"BC","v":2.7},{"t":"2013-07-17T04:30","s":"BC","v":2.8},{"t":"2013-07-17T05:00","s":"BC","v":3.5},{"t":"2013-07-17T05:30","s":"BC","v":5.9},{"t":"2013-07-17T06:00","s":"BC","v":6.9},{"t":"2013-07-17T06:30","s":"BC","v":6.7},{"t":"2013-07-17T07:00","s":"BC","v":8.2},{"t":"2013-07-17T07:30","s":"BC","v":7.1},{"t":"2013-07-17T08:00","s":"BC","v":6.4},{"t":"2013-07-17T08:30","s":"BC","v":9.5},{"t":"2013-07-17T09:00","s":"BC","v":6.7},{"t":"2013-07-17T09:30","s":"BC","v":5.6},{"t":"2013-07-17T10:00","s":"BC","v":5.4},{"t":"2013-07-17T10:30","s":"BC","v":5.4},{"t":"2013-07-17T11:00","s":"BC","v":5.4},{"t":"2013-07-17T11:30","s":"BC","v":5.9},{"t":"2013-07-17T12:00","s":"BC","v":5.4},{"t":"2013-07-17T12:30","s":"BC","v":4.3},{"t":"2013-07-17T13:00","s":"BC","v":5.1},{"t":"2013-07-17T13:30","s":"BC","v":6.7},{"t":"2013-07-17T14:00","s":"BC","v":12},{"t":"2013-07-17T14:30","s":"BC","v":63},{"t":"2013-07-17T15:00","s":"BC","v":34.4},{"t":"2013-07-17T15:30","s":"BC","v":40.9},{"t":"2013-07-17T16:00","s":"BC","v":6.3},{"t":"2013-07-17T16:30","s":"BC","v":6.9},{"t":"2013-07-17T17:00","s":"BC","v":6.9},{"t":"2013-07-17T17:30","s":"BC","v":8.8},{"t":"2013-07-17T18:00","s":"BC","v":8.8},{"t":"2013-07-17T18:30","s":"BC","v":7.9},{"t":"2013-07-17T19:00","s":"BC","v":9.2},{"t":"2013-07-17T19:30","s":"BC","v":9.6},{"t":"2013-07-17T20:00","s":"BC","v":10.1},{"t":"2013-07-17T20:30","s":"BC","v":10.9},{"t":"2013-07-17T21:00","s":"BC","v":11.1},{"t":"2013-07-17T21:30","s":"BC","v":11.1},{"t":"2013-07-17T22:00","s":"BC","v":6.4},{"t":"2013-07-17T22:30","s":"BC","v":6.7},{"t":"2013-07-17T23:00","s":"BC","v":9.2},{"t":"2013-07-17T23:30","s":"BC","v":10.8},{"t":"2013-07-18T00:00","s":"BC","v":9.9}
],
"marker":[{"t":"2013-07-16T08:00"}]},
"encoding":{
"x":{"field":"t","type":"temporal",
"scale":{"domain":[{"year":2013,"month":7,"date":15},{"year":2013,"month":7,"date":18}],"nice":false},
"axis":{"orient":"bottom","title":"Time [CET]","titleFontSize":25.5,"titleFontWeight":"normal","titlePadding":14,"tickSize":7,"tickCount":100,"format":"%d.%m.%Y","labelFontSize":20.5,"labelPadding":10,"labelFlush":false,"labelOverlap":false,
"labelExpr":"hours(datum.value) == 0 ? datum.label : ''",
"values":[{"year":2013,"month":7,"date":15,"hours":0},{"year":2013,"month":7,"date":15,"hours":2},{"year":2013,"month":7,"date":15,"hours":4},{"year":2013,"month":7,"date":15,"hours":6},{"year":2013,"month":7,"date":15,"hours":8},{"year":2013,"month":7,"date":15,"hours":10},{"year":2013,"month":7,"date":15,"hours":12},{"year":2013,"month":7,"date":15,"hours":14},{"year":2013,"month":7,"date":15,"hours":16},{"year":2013,"month":7,"date":15,"hours":18},{"year":2013,"month":7,"date":15,"hours":20},{"year":2013,"month":7,"date":15,"hours":22},{"year":2013,"month":7,"date":16,"hours":0},{"year":2013,"month":7,"date":16,"hours":2},{"year":2013,"month":7,"date":16,"hours":4},{"year":2013,"month":7,"date":16,"hours":6},{"year":2013,"month":7,"date":16,"hours":8},{"year":2013,"month":7,"date":16,"hours":10},{"year":2013,"month":7,"date":16,"hours":12},{"year":2013,"month":7,"date":16,"hours":14},{"year":2013,"month":7,"date":16,"hours":16},{"year":2013,"month":7,"date":16,"hours":18},{"year":2013,"month":7,"date":16,"hours":20},{"year":2013,"month":7,"date":16,"hours":22},{"year":2013,"month":7,"date":17,"hours":0},{"year":2013,"month":7,"date":17,"hours":2},{"year":2013,"month":7,"date":17,"hours":4},{"year":2013,"month":7,"date":17,"hours":6},{"year":2013,"month":7,"date":17,"hours":8},{"year":2013,"month":7,"date":17,"hours":10},{"year":2013,"month":7,"date":17,"hours":12},{"year":2013,"month":7,"date":17,"hours":14},{"year":2013,"month":7,"date":17,"hours":16},{"year":2013,"month":7,"date":17,"hours":18},{"year":2013,"month":7,"date":17,"hours":20},{"year":2013,"month":7,"date":17,"hours":22},{"year":2013,"month":7,"date":18,"hours":0}]}}
},
"layer":[
{"data":{"name":"series"},"transform":[{"filter":{"field":"s","oneOf":["RH","O3"]}}],
"mark":{"type":"line","strokeWidth":1.3},
"encoding":{
"y":{"field":"v","type":"quantitative","scale":{"domain":[0,220],"nice":false,"zero":false},
"axis":{"orient":"left","title":null,"tickSize":7,"tickCount":100,"labelPadding":13,"labelOverlap":false,
"labelExpr":"datum.value % 20 == 0 ? datum.label : ''",
"values":[0,4,8,12,16,20,24,28,32,36,40,44,48,52,56,60,64,68,72,76,80,84,88,92,96,100,104,108,112,116,120,124,128,132,136,140,144,148,152,156,160,164,168,172,176,180,184,188,192,196,200,204,208,212,216,220]}},
"color":{"field":"s","type":"nominal",
"scale":{"domain":["RH","O3","CO","PM10","BC"],"range":["#111111","#ff00ff","#0000ff","#00ffff","#00ee00"]},
"legend":{"orient":"none","legendX":453,"legendY":18,"title":null,"padding":0,
"labelFontSize":21,"labelLimit":500,"symbolType":"M-1,0H3","symbolSize":625,"symbolStrokeWidth":1.6,"labelOffset":38,"rowPadding":7.6,
"labelExpr":"datum.value=='RH' ? 'RH [%] (Zugspitze summit)' : datum.value=='O3' ? 'O₃ [ppb]' : datum.value=='CO' ? 'CO [ppb]' : datum.value=='PM10' ? 'PM10 [ μg m⁻³]*2' : 'black carbon [μg (STDm)⁻³]*20'"}}
}},
{"data":{"name":"series"},"transform":[{"filter":{"field":"s","equal":"CO"}}],
"mark":{"type":"line","strokeWidth":1.6},
"encoding":{
"y":{"field":"v","type":"quantitative"},
"color":{"field":"s","type":"nominal"}
}},
{"data":{"name":"series"},"transform":[{"filter":{"field":"s","oneOf":["PM10","BC"]}}],
"mark":{"type":"line","strokeWidth":2.6},
"encoding":{
"y":{"field":"v","type":"quantitative"},
"color":{"field":"s","type":"nominal"}
}},
{"data":{"name":"marker"},
"mark":{"type":"rule","color":"#e0282a","strokeDash":[9,5],"strokeWidth":1.6},
"encoding":{}
}
],
"config":{
"font":"Liberation Sans",
"view":{"stroke":"black","strokeWidth":1.5},
"axis":{"grid":false,"domainColor":"black","domainWidth":1.5,"tickColor":"black","tickWidth":1.5,"labelColor":"black","titleColor":"black","labelFontSize":20,"labelFont":"Liberation Sans","titleFont":"Liberation Sans"},
"legend":{"labelFont":"Liberation Sans","labelColor":"black"}
}
}
